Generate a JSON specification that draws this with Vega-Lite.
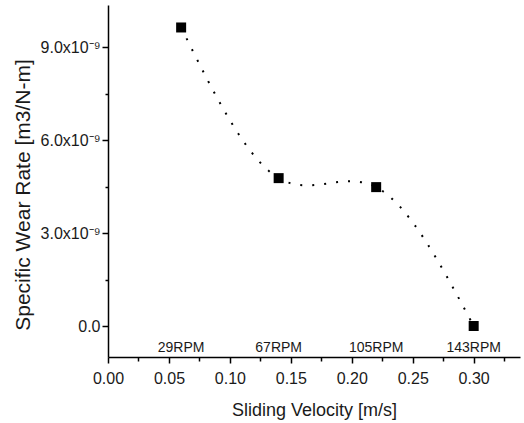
{
  "$schema": "https://vega.github.io/schema/vega-lite/v6.json",
  "width": 412,
  "height": 352,
  "autosize": {"type": "none"},
  "padding": {"left": 108, "top": 5, "right": 4, "bottom": 66},
  "background": "white",
  "config": {
    "font": "Liberation Sans",
    "view": {"stroke": null},
    "axis": {"grid": false, "domainColor": "#000", "tickColor": "#000", "labelColor": "#1a1a1a", "titleColor": "#1a1a1a", "titleFontWeight": "normal", "domainWidth": 1.5, "tickWidth": 1.5}
  },
  "data": {"values": [
    {"v": 0.06, "w": 9.63e-9, "rpm": "29RPM"},
    {"v": 0.14, "w": 4.77e-9, "rpm": "67RPM"},
    {"v": 0.22, "w": 4.48e-9, "rpm": "105RPM"},
    {"v": 0.30, "w": 0.0, "rpm": "143RPM"}
  ]},
  "resolve": {"axis": {"x": "independent", "y": "independent"}},
  "layer": [
    {
      "mark": {"type": "line", "interpolate": "natural", "color": "#000", "strokeWidth": 2, "strokeDash": [2, 10]},
      "encoding": {
        "x": {"field": "v", "type": "quantitative",
          "scale": {"domain": [0, 0.338], "nice": false, "zero": false},
          "axis": {"orient": "bottom", "values": [0, 0.05, 0.1, 0.15, 0.2, 0.25, 0.3], "format": ".2f", "labelFontSize": 16, "tickSize": 6, "labelPadding": 7,
            "title": "Sliding Velocity [m/s]", "titleFontSize": 18, "titleBaseline": "middle", "titleX": 206, "titleY": 53, "labelFlush": false}},
        "y": {"field": "w", "type": "quantitative",
          "scale": {"domain": [-1.0e-9, 10.355e-9], "nice": false, "zero": false},
          "axis": {"orient": "left", "values": [0, 3e-9, 6e-9, 9e-9], "labelExpr": "datum.value == 0 ? '0.0' : format(datum.value*1e9, '.1f') + 'x10⁻⁹'", "labelFontSize": 16, "tickSize": 6, "labelPadding": 2,
            "title": "Specific Wear Rate [m3/N-m]", "titleFontSize": 21, "titleAngle": -90, "titleBaseline": "middle", "titleAlign": "center", "titleX": -85, "titleY": 189.5, "labelFlush": false}}
      }
    },
    {
      "mark": {"type": "point", "shape": "square", "size": 100, "filled": true, "color": "#000", "opacity": 1},
      "encoding": {
        "x": {"field": "v", "type": "quantitative",
          "scale": {"domain": [0, 0.338], "nice": false, "zero": false},
          "axis": {"orient": "bottom", "values": [0.025, 0.075, 0.125, 0.175, 0.225, 0.275, 0.325], "labels": false, "domain": false, "tickSize": 4, "title": null}},
        "y": {"field": "w", "type": "quantitative",
          "scale": {"domain": [-1.0e-9, 10.355e-9], "nice": false, "zero": false},
          "axis": {"orient": "left", "values": [1.5e-9, 4.5e-9, 7.5e-9], "labels": false, "domain": false, "tickSize": 3, "title": null}}
      }
    },
    {
      "mark": {"type": "text", "fontSize": 14, "color": "#1a1a1a", "baseline": "middle", "align": "center"},
      "encoding": {
        "x": {"field": "v", "type": "quantitative", "scale": {"domain": [0, 0.338], "nice": false, "zero": false}, "axis": null},
        "y": {"datum": -7.1e-10, "type": "quantitative", "scale": {"domain": [-1.0e-9, 10.355e-9], "nice": false, "zero": false}, "axis": null},
        "text": {"field": "rpm"}
      }
    }
  ]
}
